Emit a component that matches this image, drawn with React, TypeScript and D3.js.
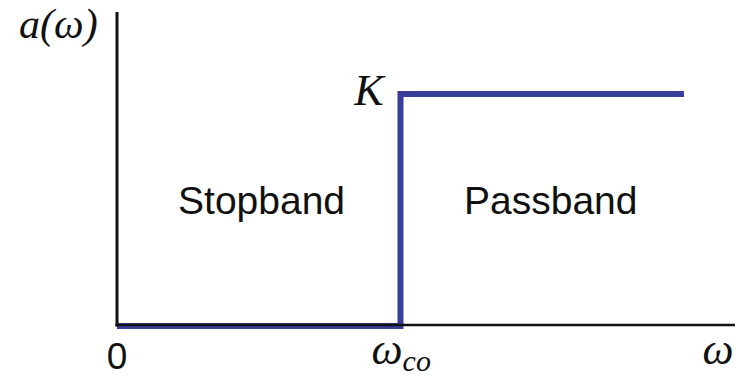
import React from 'react';
import * as d3 from 'd3';

// Ideal high-pass magnitude response: zero below cutoff, K above it
const freq = [0, 1, 1, 2];
const gain = [0, 0, 1, 1];
const xDomain = [0, 2.18];
const yDomain = [0, 1.355];
const cutoff = 1;
const passLevel = 1;
const regionLabels = ['Stopband', 'Passband'];
const regionCenters = [0.51, 1.53];
const regionLevel = 0.49;

const W = 738;
const H = 378;

export default function App() {
  const x = d3.scaleLinear().domain(xDomain).range([117, 735]);
  const y = d3.scaleLinear().domain(yDomain).range([325, 12]);

  const pts: [number, number][] = freq.map((f, i) => [f, gain[i]]);
  const line = d3
    .line<[number, number]>()
    .x((d) => x(d[0]))
    .y((d) => y(d[1]) + (d[1] === 0 ? 1 : 0));

  const serif = '"Liberation Serif", "DejaVu Serif", serif';
  const sans = '"Liberation Sans", Arial, sans-serif';
  const blue = '#393d9c';

  return (
    <svg
      width={W}
      height={H}
      style={{ position: 'absolute', left: 0, top: 0, background: '#fff' }}
    >
      <path
        d={line(pts) ?? ''}
        fill="none"
        stroke={blue}
        strokeWidth={6}
        strokeLinejoin="miter"
      />
      {/* axes */}
      <line x1={x(0)} x2={x(0)} y1={y(yDomain[1])} y2={y(0) + 1.5} stroke="#111" strokeWidth={3} />
      <line x1={x(0) - 1.5} x2={x(xDomain[1])} y1={y(0)} y2={y(0)} stroke="#111" strokeWidth={2.5} />

      {/* region labels */}
      {regionLabels.map((t, i) => (
        <text
          key={t}
          x={x(regionCenters[i])}
          y={y(regionLevel) + 2}
          textAnchor="middle"
          fontFamily={sans}
          fontSize={39}
          fill="#111"
        >
          {t}
        </text>
      ))}

      {/* y-axis label */}
      <text x={19} y={38} fontFamily={serif} fontStyle="italic" fontSize={42} fill="#111">
        a(ω)
      </text>

      {/* passband level */}
      <text x={x(cutoff) - 17} y={y(passLevel) + 11} textAnchor="end" fontFamily={serif} fontStyle="italic" fontSize={44} fill="#111">
        K
      </text>

      {/* x tick labels */}
      <text x={x(0)} y={369} textAnchor="middle" fontFamily={sans} fontSize={37} fill="#111">
        0
      </text>
      <text x={x(cutoff) - 29} y={364} fontFamily={serif} fontStyle="italic" fontSize={44} fill="#111">
        ω
        <tspan fontSize={30} dy={7}>
          co
        </tspan>
      </text>
      <text x={718} y={364} textAnchor="middle" fontFamily={serif} fontStyle="italic" fontSize={44} fill="#111">
        ω
      </text>
    </svg>
  );
}
